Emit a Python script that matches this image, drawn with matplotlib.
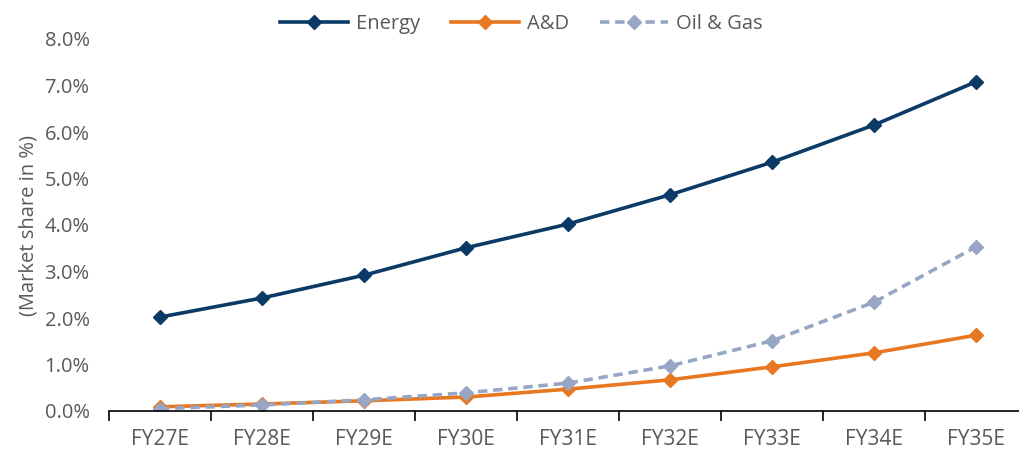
import matplotlib
matplotlib.use("Agg")
import matplotlib.pyplot as plt
from matplotlib.ticker import FuncFormatter, MultipleLocator

categories = ["FY27E", "FY28E", "FY29E", "FY30E", "FY31E", "FY32E", "FY33E", "FY34E", "FY35E"]
energy = [2.02, 2.43, 2.92, 3.51, 4.02, 4.65, 5.35, 6.15, 7.08]
a_and_d = [0.09, 0.15, 0.22, 0.30, 0.47, 0.67, 0.95, 1.25, 1.63]
oil_gas = [0.05, 0.13, 0.24, 0.39, 0.60, 0.97, 1.51, 2.34, 3.53]

plt.rcParams['font.family'] = ['Open Sans', 'DejaVu Sans']

fig = plt.figure(figsize=(10.2, 4.5), dpi=100)
ax = fig.add_axes([109/1020, 39/450, (1027-109)/1020, (411-39)/450])

x = list(range(len(categories)))
ax.plot(x, energy, color="#0B3A66", lw=2.6, marker="D", ms=7, label="Energy")
ax.plot(x, a_and_d, color="#E87722", lw=2.6, marker="D", ms=7, label="A&D")
ax.plot(x, oil_gas, color="#97A6C4", lw=2.6, ls=(0, (2.6, 1.6)), marker="D", ms=7, label="Oil & Gas")

ax.set_xlim(-0.5, len(categories) - 0.5)
ax.set_ylim(0, 8)
ax.yaxis.set_major_locator(MultipleLocator(1))
ax.yaxis.set_major_formatter(FuncFormatter(lambda v, p: f"{v:.1f}%"))
ax.set_xticks(x)
ax.set_xticklabels(categories)
ax.set_xticks([i - 0.5 for i in range(len(categories) + 1)], minor=True)
ax.tick_params(axis='x', which='major', length=0, pad=13, labelsize=15, labelcolor="#595959")
ax.tick_params(axis='x', which='minor', length=7, width=1.2, color="#000000", direction='out')
ax.tick_params(axis='y', length=0, pad=14, labelsize=14.5, labelcolor="#595959")

for s in ["top", "right", "left"]:
    ax.spines[s].set_visible(False)
ax.spines["bottom"].set_color("#000000")
ax.spines["bottom"].set_linewidth(1.2)

ax.set_ylabel("(Market share in %)", fontsize=14.5, color="#595959", labelpad=4)

fig.legend(loc="center", bbox_to_anchor=(0.511, 1 - 24/450), ncol=3, frameon=False,
           fontsize=14.5, labelcolor="#595959", handlelength=3.4, columnspacing=1.5,
           handletextpad=0.4)

fig.savefig("out.png", dpi=100)
